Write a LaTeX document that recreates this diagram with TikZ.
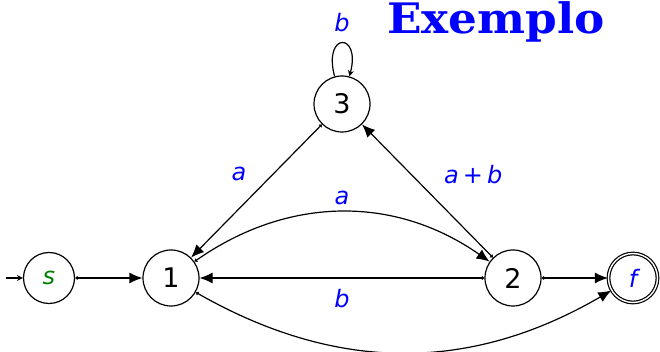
\documentclass[tikz,border=0pt]{standalone}
\usepackage{fontspec}
\setsansfont{DejaVu Sans}
\newfontfamily\titlefont[FakeStretch=1.08]{DejaVu Serif}
\usetikzlibrary{arrows.meta,positioning}
\definecolor{stgreen}{RGB}{0,128,0}
\definecolor{lblblue}{RGB}{0,0,255}
\tikzset{
  >={Latex[length=6.5pt,width=5.5pt]},
  stnode/.style={circle,draw,semithick,minimum size=28pt,inner sep=0pt,
    font=\sffamily\fontsize{13.5}{16}\selectfont},
  endnode/.style={stnode,double,double distance=0.7pt,minimum size=24.5pt,
    text=lblblue,font=\sffamily\itshape\fontsize{12}{14}\selectfont},
  trans/.style={{Latex[length=1.3pt,width=2.4pt]}->,semithick},
  small/.style={-{Stealth[length=3pt,width=3pt]},semithick},
  lbl/.style={text=lblblue,font=\sffamily\itshape\fontsize{12}{14}\selectfont},
  title/.style={text=lblblue,anchor=base,font=\titlefont\bfseries\fontsize{21}{25}\selectfont},
}
\begin{document}
\begin{tikzpicture}[x=0.5pt,y=-0.5pt]
  \useasboundingbox (0,0) rectangle (660,352);
  % states
  \node[stnode,minimum size=25.5pt,text=stgreen,
    font=\sffamily\itshape\fontsize{12}{14}\selectfont] (s) at (49,278) {s};
  \node[stnode] (q1) at (171,278) {1};
  \node[stnode] (q3) at (342,104) {3};
  \node[stnode] (q2) at (513,278) {2};
  \node[endnode] (f) at (633,278) {f};
  \coordinate (in) at (6,278);
  \node[title] (ttl) at (496,34) {Exemplo};
  % transitions
  \draw[small] (in) -- (s);
  \draw[trans] (s) -- (q1);
  \draw[trans] (q3) -- node[lbl,above left=2pt] {a} (q1);
  \draw[trans] (q2) -- node[lbl,above right=2pt,pos=0.48,xshift=2pt] {a\,{\upshape +}\,b} (q3);
  \draw[trans] (q1) to[bend left=35] node[lbl,above] {a} (q2);
  \draw[trans] (q2) -- node[lbl,below=2pt] {b} (q1);
  \draw[trans] (q2) -- (f);
  \draw[trans] (q1) to[bend right=30] (f);
  \draw[small] (q3) to[loop above] node[lbl,above=2pt] {b} (q3);
\end{tikzpicture}
\end{document}
